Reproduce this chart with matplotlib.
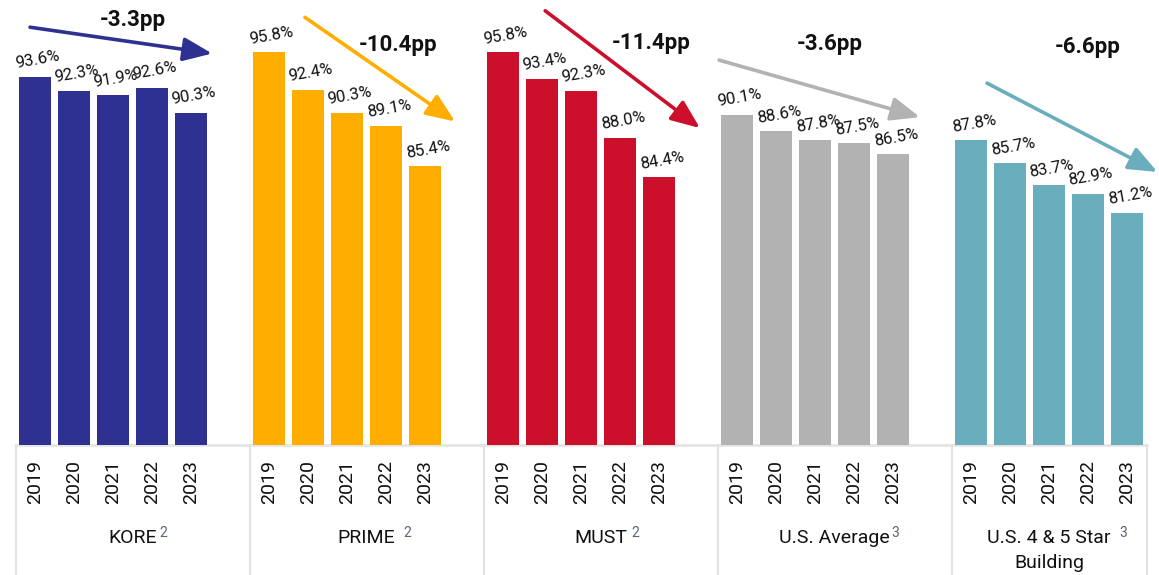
import matplotlib
matplotlib.use("Agg")
import matplotlib.pyplot as plt
from matplotlib.transforms import blended_transform_factory

plt.rcParams['font.family'] = ['Roboto', 'DejaVu Sans']

# ---- data ----
groups = ["KORE", "PRIME", "MUST", "U.S. Average", "U.S. 4 & 5 Star"]
group_sub = ["", "", "", "", "Building"]
superscripts = ["2", "2", "2", "3", "3"]
years = ["2019", "2020", "2021", "2022", "2023"]
kore = [93.6, 92.3, 91.9, 92.6, 90.3]
prime = [95.8, 92.4, 90.3, 89.1, 85.4]
must = [95.8, 93.4, 92.3, 88.0, 84.4]
us_avg = [90.1, 88.6, 87.8, 87.5, 86.5]
us_45 = [87.8, 85.7, 83.7, 82.9, 81.2]
series = [kore, prime, must, us_avg, us_45]
colors = ["#2E3192", "#FFAE00", "#CC0F2B", "#B2B2B2", "#6AAEBD"]

# annotation layout (arrow tail, arrow tip, pp label position) in data units
arrow_tail = [(-0.13, 98.1), (6.92, 99.0), (13.08, 99.6), (17.54, 95.1), (24.41, 93.0)]
arrow_tip = [(4.54, 95.7), (10.77, 89.5), (17.05, 88.9), (22.69, 89.9), (28.78, 84.9)]
pp_pos = [(2.51, 98.8), (9.31, 96.5), (15.79, 96.7), (20.38, 96.6), (27.0, 96.3)]
sup_gap = [2, 6, 3, 1, 6]

fig = plt.figure(figsize=(11.59, 5.75), dpi=100)
ax = fig.add_axes([0, 0.2261, 1, 0.7628])
ax.set_xlim(-0.9, 28.82)
ax.set_ylim(60, 100)
ax.axis('off')

bt = blended_transform_factory(ax.transData, ax.transAxes)
line_c = "#E3E3E3"
n = len(years)

for g, vals in enumerate(series):
    xs = [6 * g + i for i in range(n)]
    ax.bar(xs, [v - 60 for v in vals], bottom=60, width=0.82, color=colors[g], zorder=2)
    for x, v in zip(xs, vals):
        ax.annotate(f"{v:.1f}%", xy=(x, v), xytext=(2, 4), textcoords='offset points',
                    ha='center', va='bottom', rotation=10, fontsize=12, color='#111111')
        ax.text(x, -0.034, f"{years[xs.index(x)]}", transform=bt, rotation=90,
                ha='center', va='top', fontsize=14, color='#111111')
    # arrow
    ax.annotate('', xy=arrow_tip[g], xytext=arrow_tail[g],
                arrowprops=dict(arrowstyle='-|>,head_length=1.1,head_width=0.45',
                                mutation_scale=16, lw=2.6, color=colors[g],
                                shrinkA=0, shrinkB=0), annotation_clip=False)
    diff = vals[-1] - vals[0]
    ax.text(pp_pos[g][0], pp_pos[g][1], f"{diff:.1f}pp", ha='center', va='center',
            fontsize=16, fontweight='bold', color='#111111')
    # group labels
    left = 6 * g - 0.5
    right = 6 * g + 5.5 if g < len(groups) - 1 else 6 * g + 4.5
    cx = (left + right) / 2
    t = ax.text(cx, -0.212, groups[g], transform=bt, ha='center', va='center',
                fontsize=14, color='#111111')
    ax.annotate(superscripts[g], xy=(1, 1), xycoords=t, xytext=(sup_gap[g], 2),
                textcoords='offset points', ha='left', va='top', fontsize=10,
                color='#5A6378')
    if group_sub[g]:
        ax.text(cx, -0.269, group_sub[g], transform=bt, ha='center', va='center',
                fontsize=14, color='#111111')
    # separators
    ax.plot([left, left], [0, -0.3], transform=bt, color=line_c, lw=1.5, clip_on=False)
    if g == len(groups) - 1:
        ax.plot([right, right], [0, -0.3], transform=bt, color=line_c, lw=1.5, clip_on=False)

ax.plot([-0.5, 28.5], [0, 0], transform=bt, color=line_c, lw=1.8, clip_on=False, zorder=1)

fig.savefig("out.png", dpi=100)
